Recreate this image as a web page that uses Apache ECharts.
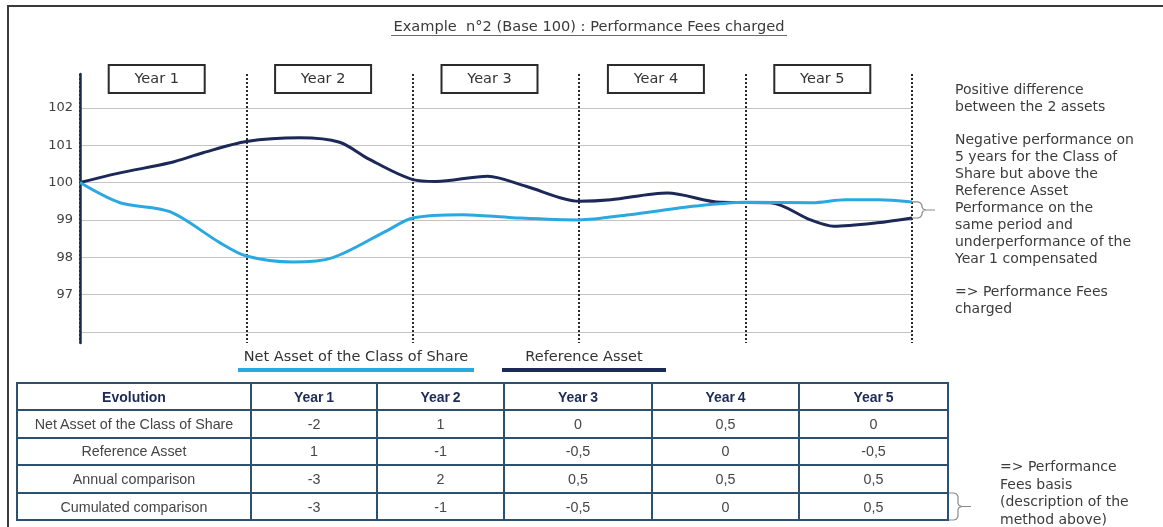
<!DOCTYPE html>
<html>
<head>
<meta charset="utf-8">
<title>Performance Fees charged</title>
<script src="https://cdn.jsdelivr.net/npm/echarts@6/dist/echarts.min.js"></script>
<style>
  html, body { margin: 0; padding: 0; background: #fff; }
  #wrap { position: relative; width: 1163px; height: 527px; overflow: hidden; }
  #chart { position: absolute; left: 0; top: 0; width: 1163px; height: 527px; }
  #frame { position: absolute; left: 7px; top: 5px; width: 1200px; height: 600px;
           border-left: 2px solid #3a3a3a; border-top: 2px solid #3a3a3a; pointer-events: none; }
  #tbl { position: absolute; left: 16px; top: 382px; width: 931px; border-collapse: collapse;
         table-layout: fixed; font-family: 'Liberation Sans', Arial, sans-serif; font-size: 14.3px; color: #454545; }
  #tbl th, #tbl td { border: 2px solid #2b5070; text-align: center; padding: 0; background: #fff; }
  #tbl th { color: #1d2c55; font-weight: bold; font-size: 14px; }
</style>
</head>
<body>
<div id="wrap">
  <div id="chart"></div>
  <div id="frame"></div>
  <table id="tbl"></table>
</div>
<script>
// years on top of the chart and in the table
const years = ['Year 1', 'Year 2', 'Year 3', 'Year 4', 'Year 5'];
const yLabels = [97, 98, 99, 100, 101, 102];
const yGrid = [96, 97, 98, 99, 100, 101, 102];

// Net Asset of the Class of Share (base 100), time in years
const netTime  = [0, 0.24, 0.54, 0.84, 1.0, 1.28, 1.52, 1.84, 2.0, 2.3, 2.6, 3.0, 3.3, 3.7, 4.0, 4.4, 4.6, 4.8, 5.0];
const netValue = [100, 99.46, 99.22, 98.39, 98.03, 97.87, 97.99, 98.7, 99.05, 99.14, 99.06, 99.0, 99.14, 99.37, 99.47, 99.46, 99.54, 99.54, 99.48];

// Reference Asset (base 100)
const refTime  = [0, 0.24, 0.54, 0.74, 1.0, 1.32, 1.56, 1.74, 2.0, 2.14, 2.45, 2.68, 3.0, 3.19, 3.53, 3.85, 4.15, 4.39, 4.53, 4.79, 5.0];
const refValue = [100, 100.26, 100.53, 100.8, 101.1, 101.2, 101.08, 100.62, 100.08, 100.03, 100.17, 99.9, 99.5, 99.54, 99.72, 99.47, 99.46, 99.0, 98.83, 98.92, 99.05];

// table
const rowNames = ['Net Asset of the Class of Share', 'Reference Asset', 'Annual comparison', 'Cumulated comparison'];
const netAnnual = [-2, 1, 0, 0.5, 0];
const refAnnual = [1, -1, -0.5, 0, -0.5];
const annualComparison = [-3, 2, 0.5, 0.5, 0.5];
const cumulatedComparison = [-3, -1, -0.5, 0, 0.5];

const netName = 'Net Asset of the Class of Share';
const refName = 'Reference Asset';
const netColor = '#29a9e0';
const refColor = '#1b2858';
const font = 'DejaVu Sans';

// build the table
const fmt = v => String(v).replace('.', ',');
const colW = [234, 126, 127, 148, 147, 149];
let html = '<colgroup>' + colW.map(w => '<col style="width:' + w + 'px">').join('') + '</colgroup>';
html += '<tr style="height:27px"><th>Evolution</th>' + years.map(y => '<th>' + y.replace(' ', '&thinsp;') + '</th>').join('') + '</tr>';
[netAnnual, refAnnual, annualComparison, cumulatedComparison].forEach((row, i) => {
  html += '<tr style="height:27.6px"><td>' + rowNames[i] + '</td>' + row.map(v => '<td>' + fmt(v) + '</td>').join('') + '</tr>';
});
document.getElementById('tbl').innerHTML = html;

const noteStyle = { fontFamily: font, fontSize: 14, color: '#3c3c3c', lineHeight: 17, fontWeight: 'normal' };

var myChart = echarts.init(document.getElementById('chart'));
myChart.setOption({
  animation: false,
  title: [
    {
      text: '{t|Example  n°2 (Base 100) : Performance Fees charged}\n{u| }',
      left: 391, top: 20, padding: 0,
      textStyle: {
        fontWeight: 'normal',
        rich: {
          t: { fontFamily: font, fontSize: 14.6, fontWeight: 'normal', color: '#3a3a3a', lineHeight: 15, width: 396, align: 'center' },
          u: { width: 396, height: 1, lineHeight: 1, backgroundColor: '#6b6b6b' }
        }
      }
    },
    { text: 'Positive difference\nbetween the 2 assets', left: 955, top: 82, padding: 0, textStyle: noteStyle },
    {
      text: 'Negative performance on\n5 years for the Class of\nShare but above the\nReference Asset\nPerformance on the\nsame period and\nunderperformance of the\nYear 1 compensated',
      left: 955, top: 132, padding: 0, textStyle: noteStyle
    },
    { text: '=> Performance Fees\ncharged', left: 955, top: 284, padding: 0, textStyle: noteStyle },
    {
      text: '=> Performance\nFees basis\n(description of the\nmethod above)',
      left: 1000, top: 459, padding: 0, textStyle: Object.assign({}, noteStyle, { lineHeight: 17.5 })
    }
  ],
  legend: {
    data: [netName, refName],
    left: 228, top: 345,
    icon: 'rect', itemWidth: 0, itemHeight: 0, itemGap: 23,
    selectedMode: false,
    formatter: name => name === netName ? '{t1|' + name + '}\n{u1| }' : '{t2|' + name + '}\n{u2| }',
    textStyle: {
      rich: {
        t1: { width: 236, align: 'center', fontFamily: font, fontSize: 14.5, color: '#333', lineHeight: 21 },
        u1: { width: 236, height: 4, lineHeight: 4, backgroundColor: netColor },
        t2: { width: 164, align: 'center', fontFamily: font, fontSize: 14.5, color: '#333', lineHeight: 21 },
        u2: { width: 164, height: 4, lineHeight: 4, backgroundColor: refColor }
      }
    }
  },
  grid: { left: 80, right: 251, top: 74, bottom: 184 },
  xAxis: [
    {
      type: 'value', min: 0, max: 5, interval: 1,
      axisLine: { show: false }, axisTick: { show: false }, axisLabel: { show: false },
      splitLine: { show: true, lineStyle: { color: '#2a2a2a', width: 2, type: [2, 2] } }
    },
    {
      type: 'category', position: 'top', data: years, boundaryGap: true, offset: -19,
      axisLine: { show: false }, axisTick: { show: false }, splitLine: { show: false },
      axisLabel: {
        interval: 0, margin: 0,
        formatter: v => '{b|' + v + '}{s| }',
        rich: {
          b: { width: 96, height: 28, lineHeight: 28, align: 'center', borderColor: '#2b2b2b', borderWidth: 2,
               fontFamily: font, fontSize: 14.5, color: '#333' },
          s: { width: 13 }
        }
      }
    }
  ],
  yAxis: {
    type: 'value', min: 95.7, max: 102.91,
    axisLine: { show: true, lineStyle: { color: '#1c2a4a', width: 2.5 } },
    axisTick: { show: false, customValues: yGrid },
    axisLabel: { customValues: yLabels, color: '#404040', fontFamily: font, fontSize: 13, margin: 7 },
    splitLine: { show: true, lineStyle: { color: '#c4c4c4', width: 1 } }
  },
  series: [
    {
      name: refName, type: 'line', smooth: 0.3, showSymbol: false, z: 3,
      data: refTime.map((t, i) => [t, refValue[i]]),
      lineStyle: { color: refColor, width: 3 }, itemStyle: { color: refColor }
    },
    {
      name: netName, type: 'line', smooth: 0.3, showSymbol: false, z: 4,
      data: netTime.map((t, i) => [t, netValue[i]]),
      lineStyle: { color: netColor, width: 3 }, itemStyle: { color: netColor }
    }
  ]
});

// curly braces: one on the chart ends, one next to the last table row
function brace(x, y1, y2) {
  const m = (y1 + y2) / 2, c = x + 10;
  return [[x, y1], [x + 6, y1], [x + 8.5, y1 + 1], [c, y1 + 3.5], [c, m - 3], [c + 1.2, m - 1], [c + 4, m], [x + 23, m],
          [c + 4, m], [c + 1.2, m + 1], [c, m + 3], [c, y2 - 3.5], [x + 8.5, y2 - 1], [x + 6, y2], [x, y2]];
}
const pNet = myChart.convertToPixel({ seriesIndex: 1 }, [5, netValue[netValue.length - 1]]);
const pRef = myChart.convertToPixel({ seriesIndex: 0 }, [5, refValue[refValue.length - 1]]);
myChart.setOption({
  graphic: [
    { type: 'polyline', shape: { points: brace(pNet[0], pNet[1], pRef[1]) }, style: { stroke: '#8a8a8a', fill: null, lineWidth: 1.2 }, z: 10 },
    { type: 'polyline', shape: { points: brace(948, 493, 520) }, style: { stroke: '#8a8a8a', fill: null, lineWidth: 1.2 }, z: 10 }
  ]
});
</script>
</body>
</html>
